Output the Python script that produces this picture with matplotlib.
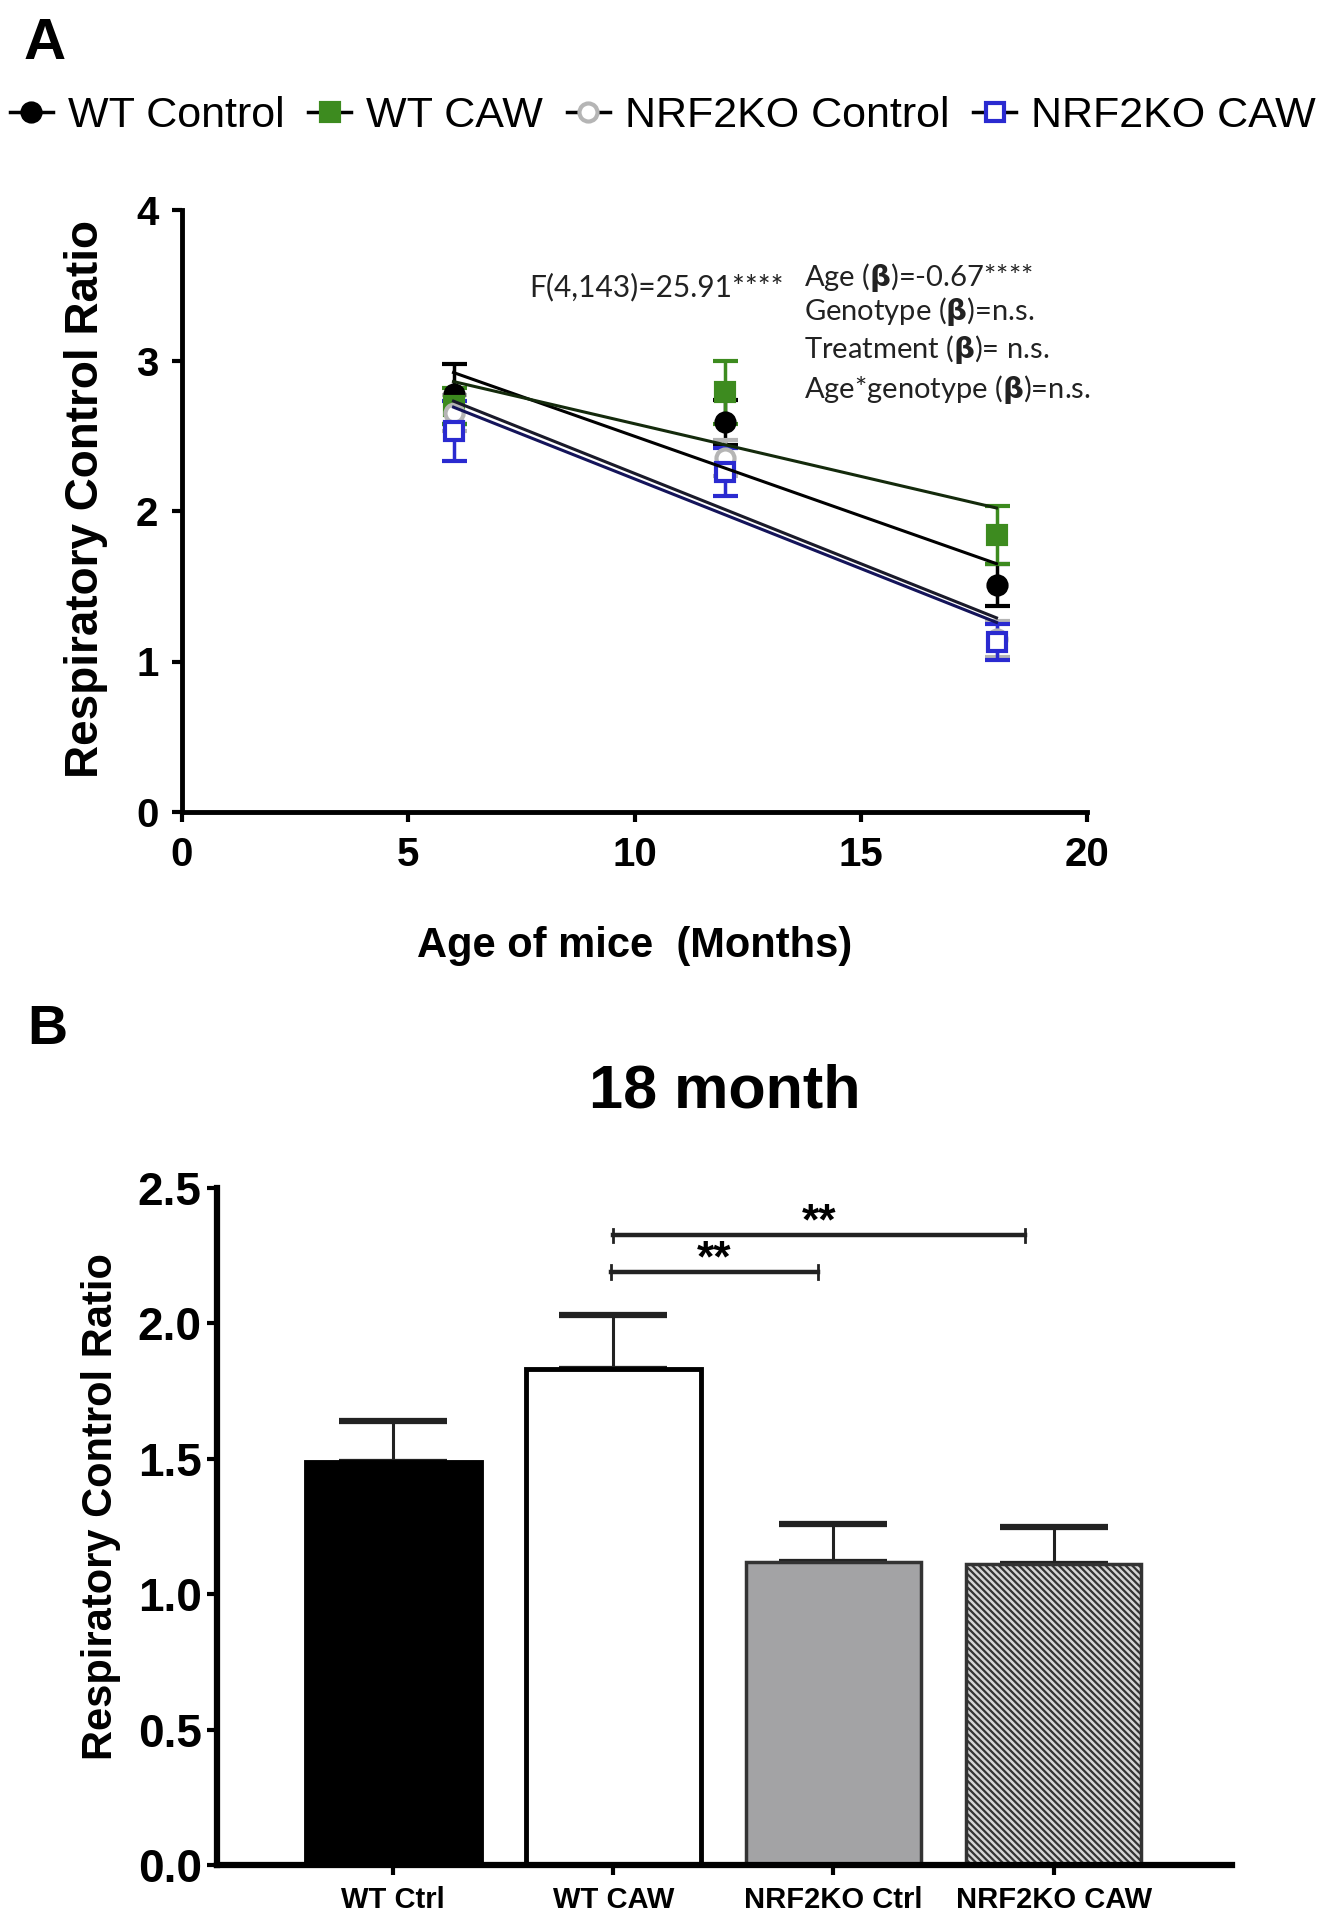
#!/usr/bin/env python3
"""
Respiratory control ratio vs age (panel A) and at 18 months (panel B).
"""
import numpy as np
import matplotlib.pyplot as plt
from matplotlib.lines import Line2D

plt.rcParams['font.family'] = ['Liberation Sans', 'DejaVu Sans']
plt.rcParams['hatch.linewidth'] = 1.6

# ---- panel A data ----
ages = [6, 12, 18]
groups = ['WT Control', 'WT CAW', 'NRF2KO Control', 'NRF2KO CAW']
wt_ctrl_mean = [2.78, 2.59, 1.51]
wt_ctrl_sem = [0.20, 0.15, 0.14]
wt_caw_mean = [2.70, 2.79, 1.84]
wt_caw_sem = [0.12, 0.21, 0.19]
ko_ctrl_mean = [2.65, 2.35, 1.15]
ko_ctrl_sem = [0.12, 0.12, 0.12]
ko_caw_mean = [2.53, 2.26, 1.13]
ko_caw_sem = [0.20, 0.16, 0.12]
# fitted regression lines, value at age 6 and at age 18
fit_x = [6, 18]
wt_ctrl_fit = [2.92, 1.65]
wt_caw_fit = [2.86, 2.02]
ko_ctrl_fit = [2.73, 1.29]
ko_caw_fit = [2.69, 1.26]

stats_left = 'F(4,143)=25.91****'
stats_right = [r'Age ($\mathbf{\beta}$)=-0.67****',
               r'Genotype ($\mathbf{\beta}$)=n.s.',
               r'Treatment ($\mathbf{\beta}$)= n.s.',
               r'Age*genotype ($\mathbf{\beta}$)=n.s.']

# ---- panel B data ----
bar_labels = ['WT Ctrl', 'WT CAW', 'NRF2KO Ctrl', 'NRF2KO CAW']
bar_mean = [1.49, 1.83, 1.12, 1.11]
bar_sem = [0.15, 0.20, 0.14, 0.14]
sig_pairs = [(0.99, 1.93), (1.0, 2.87)]
sig_heights = [2.19, 2.325]
sig_text = ['**', '**']

W, H = 1326, 1920
fig = plt.figure(figsize=(W/100, H/100), dpi=100)

# ================= panel A =================
axA = fig.add_axes([182/W, 1-812/H, (1087-182)/W, (812-210)/H])
styles = [
    dict(mean=wt_ctrl_mean, sem=wt_ctrl_sem, fit=wt_ctrl_fit, marker='o', mfc='black', mec='black', ecol='black', fitcol='black'),
    dict(mean=wt_caw_mean, sem=wt_caw_sem, fit=wt_caw_fit, marker='s', mfc='#3d8b1f', mec='#3d8b1f', ecol='#3d8b1f', fitcol='#142a0c'),
    dict(mean=ko_ctrl_mean, sem=ko_ctrl_sem, fit=ko_ctrl_fit, marker='o', mfc='white', mec='#b5b5b5', ecol='#b5b5b5', fitcol='#1a1a2a'),
    dict(mean=ko_caw_mean, sem=ko_caw_sem, fit=ko_caw_fit, marker='s', mfc='white', mec='#2a2ad0', ecol='#2a2ad0', fitcol='#14145a'),
]
for s in styles:
    axA.errorbar(ages, s['mean'], yerr=s['sem'], fmt='none', ecolor=s['ecol'],
                 elinewidth=2.5, capsize=9, capthick=3, zorder=2)
    axA.plot(ages, s['mean'], ls='none', marker=s['marker'], ms=13,
             mfc=s['mfc'], mec=s['mec'], mew=3, zorder=3)
for s in styles:
    axA.plot(fit_x, s['fit'], color=s['fitcol'], lw=2.2, zorder=4)

axA.set_xlim(0, 20)
axA.set_ylim(0, 4)
axA.set_xticks([0, 5, 10, 15, 20])
axA.set_yticks([0, 1, 2, 3, 4])
for sp in ['top', 'right']:
    axA.spines[sp].set_visible(False)
for sp in ['left', 'bottom']:
    axA.spines[sp].set_linewidth(3.5)
axA.tick_params(width=3, length=7, labelsize=29, pad=10)
for lab in axA.get_xticklabels() + axA.get_yticklabels():
    lab.set_fontweight('bold')
axA.set_xlabel('Age of mice  (Months)', fontsize=30, fontweight='bold', labelpad=38)
axA.set_ylabel('Respiratory Control Ratio', fontsize=33, fontweight='bold', labelpad=20, y=0.52)

fig.text(529/W, 1-287/H, stats_left, fontsize=21.5,
         family=['Lato', 'DejaVu Sans'], va='center', ha='left', color='#222222')
stat_y = [277, 312, 350, 389]
for t, yy in zip(stats_right, stat_y):
    fig.text(804/W, 1-yy/H, t, fontsize=21, family=['Lato', 'DejaVu Sans'],
             va='center', ha='left', color='#222222')

handles = []
for s in styles:
    handles.append(Line2D([0], [0], color='black', lw=2.5, marker=s['marker'], ms=13,
                          mfc=s['mfc'], mec=s['mec'], mew=3))
fig.legend(handles, groups, loc='center', bbox_to_anchor=(0.5, 1-116/H), ncol=4,
           frameon=False, fontsize=31, handlelength=1.0, handletextpad=0.35,
           columnspacing=0.55, borderpad=0)

fig.text(24/W, 1-44/H, 'A', fontsize=42, fontweight='bold', va='center', ha='left')

# ================= panel B =================
axB = fig.add_axes([217/W, 1-1865/H, (1232-217)/W, (1865-1188)/H])
xpos = np.arange(len(bar_labels))
faces = ['black', 'white', '#a3a3a5', '#d6d6d6']
edges = ['black', 'black', '#333333', '#333333']
hatches = [None, None, None, '\\\\\\\\\\']
for i in range(len(bar_labels)):
    axB.errorbar(xpos[i], bar_mean[i], yerr=[[0], [bar_sem[i]]], fmt='none',
                 ecolor='#222222', elinewidth=2.2, capsize=39, capthick=4.5, zorder=1)
    axB.bar(xpos[i], bar_mean[i], width=0.795, color=faces[i], edgecolor=edges[i],
            linewidth=3.5 if i < 2 else 2.5, hatch=hatches[i], zorder=2)

for (x0, x1), yy, t in zip(sig_pairs, sig_heights, sig_text):
    axB.plot([x0, x1], [yy, yy], color='#222222', lw=3.2, clip_on=False)
    axB.plot([x0, x0], [yy-0.025, yy+0.025], color='#222222', lw=2, clip_on=False)
    axB.plot([x1, x1], [yy-0.025, yy+0.025], color='#222222', lw=2, clip_on=False)
    axB.text((x0+x1)/2, yy - 0.03, t, fontsize=32, fontweight='bold',
             ha='center', va='bottom')

axB.set_xlim(-0.8, 3.81)
axB.set_ylim(0, 2.5)
axB.set_yticks([0, 0.5, 1.0, 1.5, 2.0, 2.5])
axB.set_yticklabels(['0.0', '0.5', '1.0', '1.5', '2.0', '2.5'])
axB.set_xticks(xpos)
axB.set_xticklabels(bar_labels)
for sp in ['top', 'right']:
    axB.spines[sp].set_visible(False)
for sp in ['left', 'bottom']:
    axB.spines[sp].set_linewidth(4.5)
axB.tick_params(axis='y', width=3, length=7, labelsize=33, pad=4)
axB.tick_params(axis='x', width=3, length=7, labelsize=21, pad=8)
for lab in axB.get_xticklabels() + axB.get_yticklabels():
    lab.set_fontweight('bold')
axB.set_ylabel('Respiratory Control Ratio', fontsize=30, fontweight='bold', labelpad=12, y=0.53)
axB.set_title('18 month', fontsize=44, fontweight='bold', pad=58, x=0.5)

fig.text(27/W, 1-1030/H, 'B', fontsize=40, fontweight='bold', va='center', ha='left')

fig.savefig('out.png', dpi=100)
